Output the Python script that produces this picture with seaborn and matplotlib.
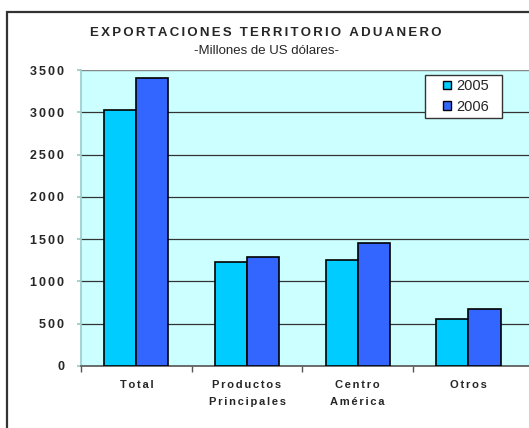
import numpy as np
import pandas as pd
import seaborn as sns
import matplotlib.pyplot as plt
from matplotlib.patches import Rectangle, Patch

# Datos (millones de US dólares)
categorias = ["Total", "Productos\nPrincipales", "Centro\nAmérica", "Otros"]
anios = ["2005", "2006"]
valores_2005 = [3027, 1226, 1250, 559]
valores_2006 = [3410, 1293, 1455, 678]
ticks_y = [0, 500, 1000, 1500, 2000, 2500, 3000, 3500]

colores = {"2005": "#00CCFF", "2006": "#3366FF"}


def espaciado(texto, n=1):
    # simula el espaciado entre letras del original
    sep = "\u200a" * n
    return "\n".join(sep.join(linea) for linea in texto.split("\n"))


def main():
    df = pd.DataFrame({
        "categoria": categorias * 2,
        "anio": [anios[0]] * len(categorias) + [anios[1]] * len(categorias),
        "valor": valores_2005 + valores_2006,
    })

    sns.set_theme(style="white")
    plt.rcParams["font.family"] = ["Liberation Sans", "DejaVu Sans"]

    fig = plt.figure(figsize=(5.29, 4.28), dpi=100)
    W, H = 529, 428
    ax = fig.add_axes([81 / W, 1 - 366 / H, (529 - 81) / W, 296 / H])

    # marco exterior (cortado a la derecha y abajo)
    fig.patches.append(Rectangle((7 / W, -0.2), 2, 1.2 - 12 / H,
                                 transform=fig.transFigure, fill=False,
                                 edgecolor="#333333", linewidth=1.6))

    ax.set_facecolor("#CCFFFF")
    sns.barplot(data=df, x="categoria", y="valor", hue="anio",
                order=categorias, hue_order=anios, palette=colores,
                width=0.58, gap=0, edgecolor="black", linewidth=1.2,
                saturation=1, ax=ax, legend=False, zorder=3)

    ax.set_ylim(0, 3500)
    ax.set_xlim(-0.5, 3.547)
    ax.set_yticks(ticks_y)
    ax.set_yticklabels([espaciado(str(t), 2) for t in ticks_y],
                       fontsize=9, fontweight="bold")
    ax.yaxis.grid(True, color="#333333", linewidth=0.9, zorder=1)
    ax.set_axisbelow(True)

    ax.set_xticks(range(len(categorias)))
    ax.set_xticklabels([espaciado(c, 2) for c in categorias], fontsize=8,
                       fontweight="bold", linespacing=1.95)
    ax.tick_params(axis="x", which="major", length=0, pad=10)
    ax.set_xticks([-0.5, 0.5, 1.5, 2.5], minor=True)
    ax.tick_params(axis="x", which="minor", length=4, color="#555555",
                   direction="out", bottom=True)
    ax.tick_params(axis="y", length=3, color="#99CCCC", direction="out",
                   left=True, pad=9)
    ax.set_xlabel("")
    ax.set_ylabel("")

    for lado in ["top", "right"]:
        ax.spines[lado].set_visible(False)
    ax.spines["left"].set_color("#99CCCC")
    ax.spines["left"].set_linewidth(1.2)
    ax.spines["bottom"].set_color("#555555")
    ax.spines["bottom"].set_linewidth(1.2)
    ax.axhline(3500, color="#999999", linewidth=1.2, zorder=2)

    # recuadro de la leyenda
    ax.add_patch(Rectangle((425 / W, 1 - 118 / H), 77 / W, 43 / H,
                           transform=fig.transFigure, facecolor="white",
                           edgecolor="#333333", linewidth=1.0, zorder=4,
                           clip_on=False))
    handles = [Patch(facecolor=colores[a], edgecolor="black", linewidth=1)
               for a in anios]
    ax.legend(handles, anios, loc="center left",
              bbox_to_anchor=(443 / W, 1 - 96.5 / H),
              bbox_transform=fig.transFigure, fontsize=10.5,
              frameon=False, handlelength=0.55, handleheight=0.55,
              handletextpad=0.35, borderpad=0, labelspacing=0.45,
              borderaxespad=0)

    fig.text(266 / W, 1 - 33 / H, espaciado("EXPORTACIONES TERRITORIO ADUANERO", 2),
             ha="center", va="center", fontsize=9.5, fontweight="bold")
    fig.text(267 / W, 1 - 50.5 / H, "-Millones de US dólares-",
             ha="center", va="center", fontsize=9.5)

    fig.savefig("out.png", dpi=100)


if __name__ == "__main__":
    main()
